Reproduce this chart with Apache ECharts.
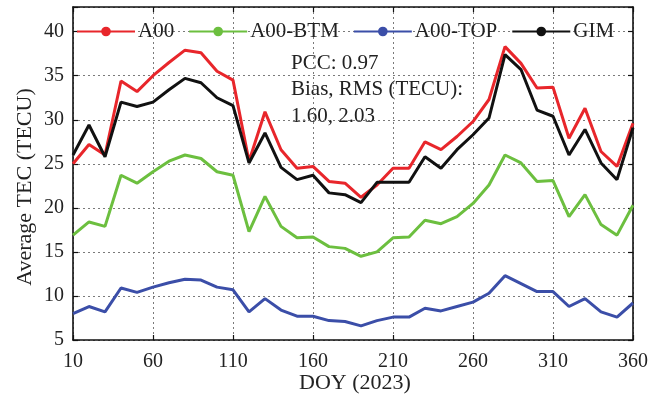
<!DOCTYPE html>
<html>
<head>
<meta charset="utf-8">
<script src="https://cdn.jsdelivr.net/npm/echarts@6/dist/echarts.min.js"></script>
<style>
html,body{margin:0;padding:0;background:#fff;}
#c{width:665px;height:403px;}
</style>
</head>
<body>
<div id="c"></div>
<script>
var doy = [10,20,30,40,50,60,70,80,90,100,110,120,130,140,150,160,170,180,190,200,210,220,230,240,250,260,270,280,290,300,310,320,330,340,350,360];
var a00 = [25.0,27.2,26.0,34.4,33.2,35.0,36.5,37.9,37.6,35.5,34.5,25.3,30.9,26.6,24.5,24.7,23.0,22.8,21.2,22.6,24.5,24.5,27.5,26.6,28.1,29.8,32.3,38.3,36.4,33.6,33.7,27.9,31.3,26.4,24.7,29.6];
var a00btm = [16.9,18.4,17.9,23.7,22.8,24.1,25.3,26.0,25.6,24.1,23.7,17.3,21.3,17.9,16.6,16.7,15.6,15.4,14.5,15.0,16.6,16.7,18.6,18.2,19.0,20.5,22.6,26.0,25.1,23.0,23.1,19.0,21.5,18.1,16.9,20.3];
var a00top = [8.0,8.8,8.2,10.9,10.4,11.0,11.5,11.9,11.8,11.0,10.7,8.2,9.7,8.4,7.7,7.7,7.2,7.1,6.6,7.2,7.6,7.6,8.6,8.3,8.8,9.3,10.3,12.3,11.4,10.5,10.5,8.8,9.7,8.2,7.6,9.2];
var gim = [26.0,29.4,25.8,32.0,31.5,32.0,33.4,34.7,34.2,32.5,31.6,25.1,28.5,24.6,23.2,23.7,21.7,21.5,20.6,22.9,22.9,22.9,25.8,24.5,26.6,28.3,30.2,37.4,35.7,31.1,30.4,26.0,28.9,25.1,23.2,29.1];
var seriesNames = ['A00','A00-BTM','A00-TOP','GIM'];
var xTicks = [10,60,110,160,210,260,310,360];
var yTicks = [5,10,15,20,25,30,35,40];
var xTitle = 'DOY (2023)';
var yTitle = 'Average TEC (TECU)';
var notes = ['PCC: 0.97','Bias, RMS (TECU):','1.60, 2.03'];

var FONT = "'Liberation Serif','Times New Roman',serif";
function pairs(v){ return doy.map(function(d,i){ return [d, v[i]]; }); }
var colors = ['#e8262b','#6cbf3f','#3b4ea8','#111111'];
var vals = [a00, a00btm, a00top, gim];

var chart = echarts.init(document.getElementById('c'), null, {renderer:'canvas'});
var gridLine = {show:true, lineStyle:{color:'#7a7a7a', type:[2,3], width:1}};
var axisLine = {show:true, onZero:false, lineStyle:{color:'#111', width:1.6}};
var tick = {show:true, inside:true, length:5, lineStyle:{color:'#111', width:1.2}};
var option = {
  backgroundColor:'#fff',
  animation:false,
  grid:{left:73, right:32, top:7, bottom:63, containLabel:false},
  legend:{
    data:seriesNames, left:71, top:16, itemWidth:58, itemHeight:12, itemGap:14,
    textStyle:{fontFamily:FONT, fontSize:21, color:'#222', padding:[0,0,0,-2]}
  },
  xAxis:[{
    type:'value', min:10, max:360, interval:50,
    axisLine:axisLine, axisTick:tick, splitLine:gridLine,
    axisLabel:{fontFamily:FONT, fontSize:20, color:'#222', margin:12,
      formatter:function(v){ return xTicks.indexOf(v)>=0 ? String(v) : ''; }}
  },{
    type:'value', position:'top', min:10, max:360, interval:50,
    axisLine:axisLine, axisTick:tick, splitLine:{show:false}, axisLabel:{show:false}
  }],
  yAxis:[{
    type:'value', min:5, max:42.8, interval:5,
    axisLine:axisLine, axisTick:tick, splitLine:gridLine,
    axisLabel:{fontFamily:FONT, fontSize:20, color:'#222', margin:9,
      formatter:function(v){ return yTicks.indexOf(v)>=0 ? String(v) : ''; }}
  },{
    type:'value', position:'right', min:5, max:42.8, interval:5,
    axisLine:axisLine, axisTick:tick, splitLine:{show:false}, axisLabel:{show:false}
  }],
  graphic:[
    {type:'text', x:25, y:187, rotation:Math.PI/2, style:{text:yTitle, fontFamily:FONT, fontSize:22, fill:'#222', align:'center', verticalAlign:'middle'}},
    {type:'text', x:355, y:383, style:{text:xTitle, fontFamily:FONT, fontSize:22, fill:'#222', align:'center', verticalAlign:'middle'}},
    {type:'text', x:291, y:63, style:{text:notes[0], fontFamily:FONT, fontSize:21, fill:'#222', align:'left', verticalAlign:'middle'}},
    {type:'text', x:291, y:89, style:{text:notes[1], fontFamily:FONT, fontSize:21, fill:'#222', align:'left', verticalAlign:'middle'}},
    {type:'text', x:291, y:116, style:{text:notes[2], fontFamily:FONT, fontSize:21, fill:'#222', align:'left', verticalAlign:'middle'}}
  ],
  series: seriesNames.map(function(n,i){
    return {name:n, type:'line', data:pairs(vals[i]), symbol:'none', showSymbol:false,
      color:colors[i], lineStyle:{color:colors[i], width:3}, z:2+i};
  })
};
chart.setOption(option);
</script>
</body>
</html>
